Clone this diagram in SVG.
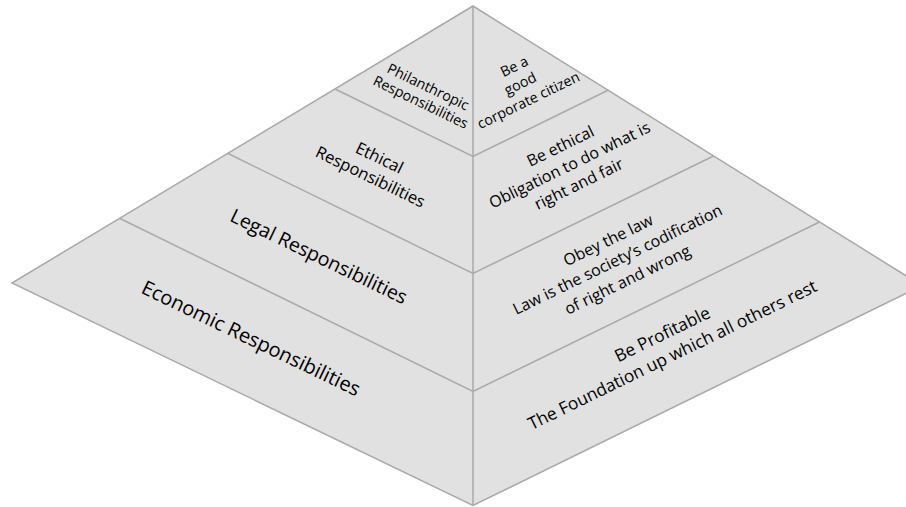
<svg xmlns="http://www.w3.org/2000/svg" width="906" height="507" viewBox="0 0 906 507">
<style>
.face{fill:#e1e1e1;stroke:none}
.edge{fill:none;stroke:#a9a9a9;stroke-width:1.5;stroke-linejoin:miter}
text{font-family:"Open Sans","Noto Sans","Liberation Sans",sans-serif;fill:#000000;text-anchor:middle}
</style>
<rect width="906" height="507" fill="#ffffff"/>
<g id="faces">
<g id="philanthropic-left"><polygon class="face" points="473,6 335,89 473,156.5"/></g>
<g id="ethical-left"><polygon class="face" points="335,89 228,153.5 473,273.5 473,156.5"/></g>
<g id="legal-left"><polygon class="face" points="228,153.5 120,218.5 473,391.5 473,273.5"/></g>
<g id="economic-left"><polygon class="face" points="120,218.5 12,283 473,505.5 473,391.5"/></g>
<g id="philanthropic-right"><polygon class="face" points="473,6 608.5,90 473,156.5"/></g>
<g id="ethical-right"><polygon class="face" points="608.5,90 713.5,156 473,273.5 473,156.5"/></g>
<g id="legal-right"><polygon class="face" points="713.5,156 819.5,222 473,391.5 473,273.5"/></g>
<g id="economic-right"><polygon class="face" points="819.5,222 921.8,285.6 473,505.5 473,391.5"/></g>
</g>
<g id="connectors">
<polygon class="edge" points="473,6 921.8,285.6 473,505.5 12,283"/>
<line class="edge" x1="473" y1="6" x2="473" y2="505.5"/>
<polyline class="edge" points="335,89 473,156.5 608.5,90"/>
<polyline class="edge" points="228,153.5 473,273.5 713.5,156"/>
<polyline class="edge" points="120,218.5 473,391.5 819.5,222"/>
</g>
<g id="labels">
<g id="label-philanthropic" transform="translate(422.3,99) rotate(25.7)">
<text font-size="14.3"><tspan x="0" y="-8.5">Philanthropic</tspan><tspan x="0" y="8.5">Responsibilities</tspan></text>
</g>
<g id="label-citizen" transform="translate(522.5,88) rotate(-26)">
<text font-size="14.3"><tspan x="2" y="-18">Be a</tspan><tspan x="0" y="0">good</tspan><tspan x="0" y="18.5">corporate citizen</tspan></text>
</g>
<g id="label-ethical" transform="translate(372.5,172.5) rotate(25.7)">
<text font-size="16.5"><tspan x="0" y="-10.5">Ethical</tspan><tspan x="0" y="10.5">Responsibilities</tspan></text>
</g>
<g id="label-be-ethical" transform="translate(572,170) rotate(-26)">
<text font-size="16"><tspan x="0" y="-21">Be ethical</tspan><tspan x="0" y="0">Obligation to do what is</tspan><tspan x="0" y="21">right and fair</tspan></text>
</g>
<g id="label-legal" transform="translate(316,262.5) rotate(25.7)">
<text font-size="19.5" x="0" y="0">Legal Responsibilities</text>
</g>
<g id="label-law" transform="translate(620,264.5) rotate(-26)">
<text font-size="16"><tspan x="0" y="-21.5">Obey the law</tspan><tspan x="0" y="0">Law is the society’s codification</tspan><tspan x="0" y="22.5">of right and wrong</tspan></text>
</g>
<g id="label-economic" transform="translate(248,344.5) rotate(25.7)">
<text font-size="20" x="0" y="0">Economic Responsibilities</text>
</g>
<g id="label-profitable" transform="translate(670,350) rotate(-26)">
<text font-size="17.3"><tspan x="0" y="-11.5">Be Profitable</tspan><tspan x="0" y="11.5">The Foundation up which all others rest</tspan></text>
</g>
</g>
</svg>
